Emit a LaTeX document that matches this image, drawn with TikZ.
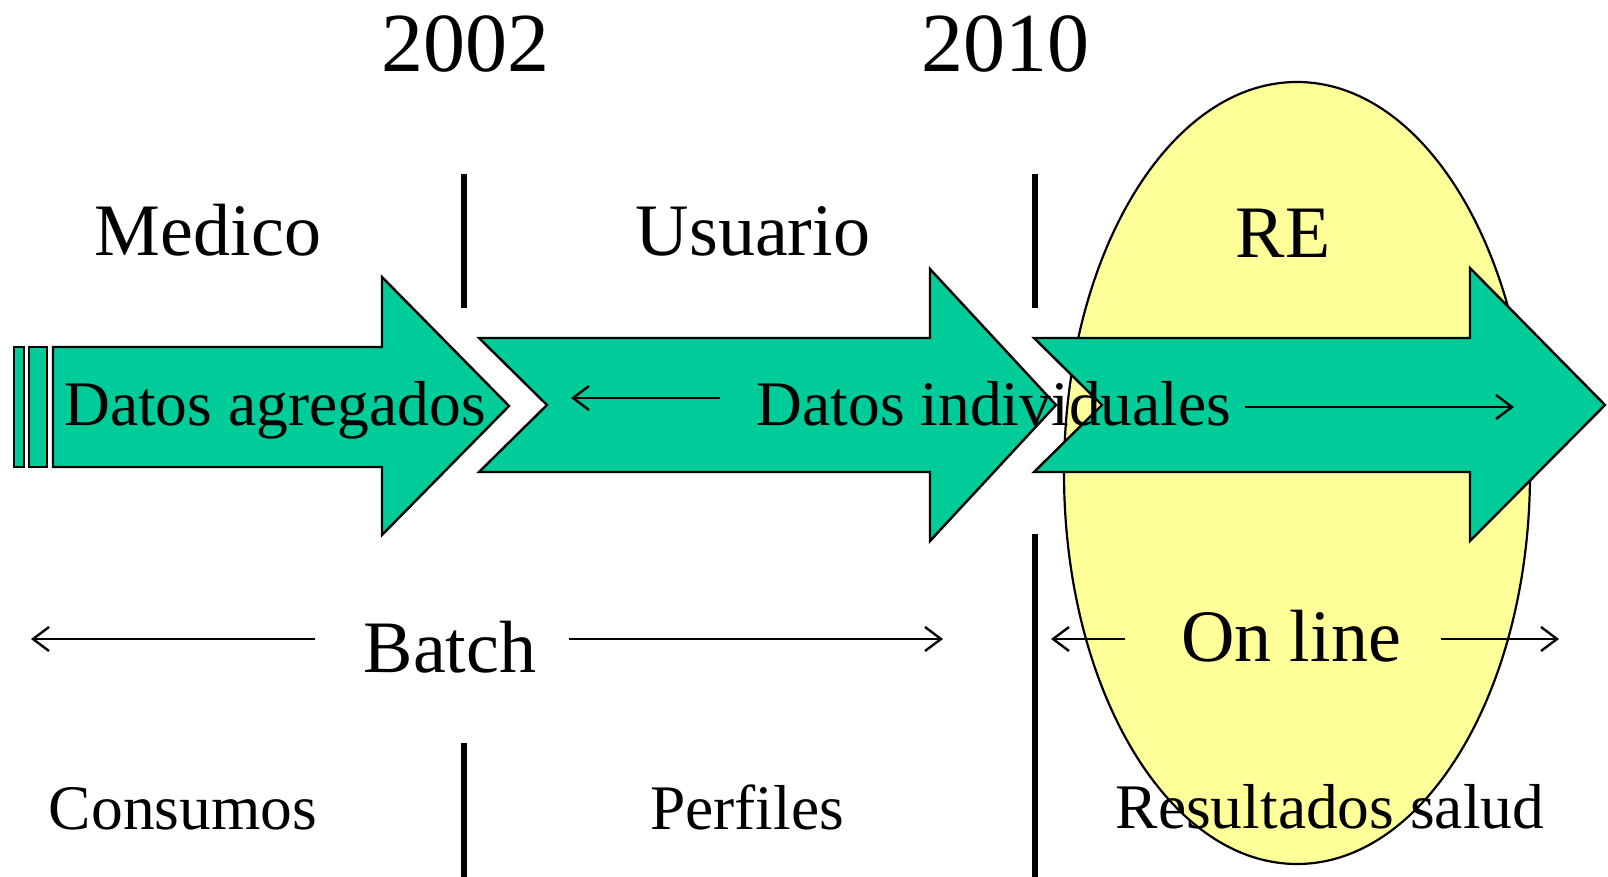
\documentclass[tikz,border=0pt]{standalone}
\usepackage{fontspec}
\setmainfont{Liberation Serif}
\usetikzlibrary{arrows.meta}
\definecolor{bandgreen}{HTML}{00CC99}
\definecolor{ovalyellow}{HTML}{FFFF99}
\tikzset{
  bigarrow/.style={fill=bandgreen,draw=black,line width=2.4pt,line join=miter},
  divider/.style={line width=6pt,draw=black},
  thinarrow/.style={line width=2.4pt,-{Straight Barb[length=16pt,width=24pt,line width=2.4pt]}},
  yeartxt/.style={inner sep=0pt,anchor=base,font=\fontsize{84}{100}\selectfont},
  midtxt/.style={inner sep=0pt,anchor=base,font=\fontsize{74}{90}\selectfont},
  smalltxt/.style={inner sep=0pt,anchor=base,font=\fontsize{63.5}{76}\selectfont},
}
\begin{document}
\begin{tikzpicture}[x=1pt,y=-1pt]
\useasboundingbox (0,0) rectangle (1608,877);
% oval
\draw[fill=ovalyellow,draw=black,line width=2.2pt] (1297,473) ellipse [x radius=233,y radius=391];
% big arrows
\draw[bigarrow] (14,347) rectangle (24,467);
\draw[bigarrow] (29,347) rectangle (47,467);
\draw[bigarrow] (53,347) -- (382,347) -- (382,277) -- (509,406) -- (382,535) -- (382,467) -- (53,467) -- cycle;
\draw[bigarrow] (479,338) -- (930,338) -- (930,269) -- (1056,405) -- (930,541) -- (930,472) -- (479,472) -- (547,405) -- cycle;
\draw[bigarrow] (1034,338) -- (1470,338) -- (1470,268) -- (1605,405) -- (1470,541) -- (1470,472) -- (1034,472) -- (1102,405) -- cycle;
% dividers
\draw[divider] (464,174) -- (464,308);
\draw[divider] (464,743) -- (464,877);
\draw[divider] (1035,174) -- (1035,308);
\draw[divider] (1035,534) -- (1035,877);
% texts
\node[yeartxt] (y2002) at (465,72) {2002};
\node[yeartxt] (y2010) at (1005,72) {2010};
\node[midtxt] (medico) at (208,256) {Medico};
\node[midtxt] (usuario) at (753,256) {Usuario};
\node[midtxt] (re) at (1283,258) {RE};
\node[smalltxt] (agreg) at (275,425) {Datos agregados};
\node[smalltxt] (indiv) at (994,425) {Datos individuales};
\node[midtxt] (batch) at (450,672) {Batch};
\node[midtxt] (online) at (1291,661) {On line};
\node[smalltxt] (consumos) at (183,829) {Consumos};
\node[smalltxt] (perfiles) at (747,829) {Perfiles};
\node[smalltxt] (resultados) at (1330,828) {Resultados salud};
% thin arrows
\coordinate (indL1) at (720,398);
\coordinate (indL2) at (571,398);
\coordinate (indR1) at (1245,407);
\coordinate (indR2) at (1514,407);
\coordinate (batL1) at (315,639);
\coordinate (batL2) at (31,639);
\coordinate (batR1) at (569,639);
\coordinate (batR2) at (943,639);
\coordinate (onL1) at (1125,639);
\coordinate (onL2) at (1051,639);
\coordinate (onR1) at (1441,639);
\coordinate (onR2) at (1559,639);
\draw[thinarrow] (indL1) -- (indL2);
\draw[thinarrow] (indR1) -- (indR2);
\draw[thinarrow] (batL1) -- (batL2);
\draw[thinarrow] (batR1) -- (batR2);
\draw[thinarrow] (onL1) -- (onL2);
\draw[thinarrow] (onR1) -- (onR2);
\end{tikzpicture}
\end{document}
